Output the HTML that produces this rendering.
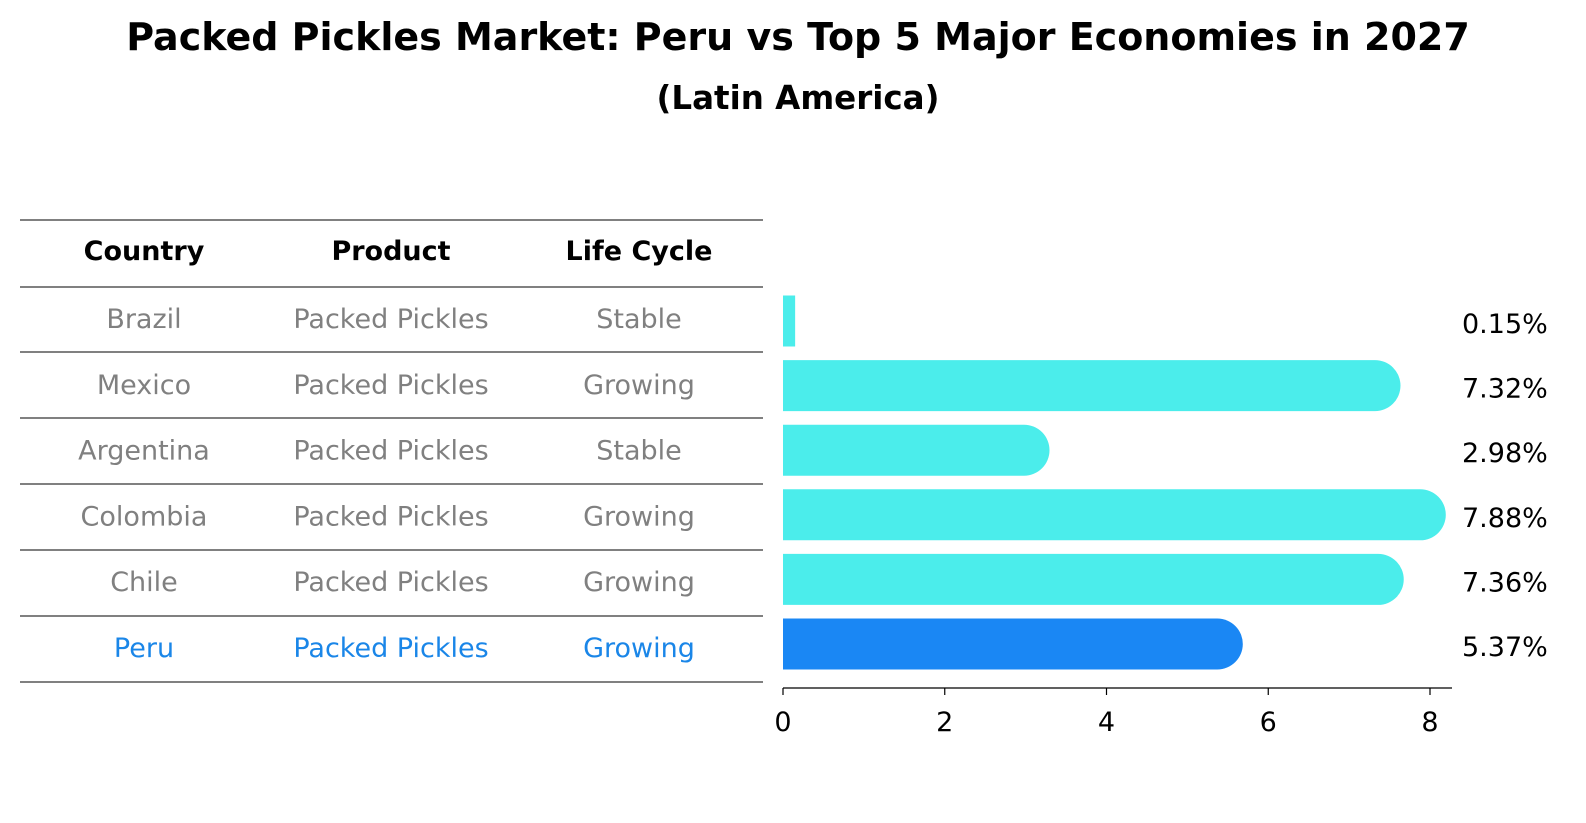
<!DOCTYPE html>
<html><head><meta charset="utf-8">
<style>
html,body{margin:0;padding:0;background:#fff;overflow:hidden;width:1586px;height:823px;}
svg{display:block;}
svg text{font-family:"DejaVu Sans","Liberation Sans",sans-serif;}
</style></head>
<body>
<svg width="1586" height="823" viewBox="0 0 1586 823">
<text x="798" y="50" text-anchor="middle" font-size="38" font-weight="bold">Packed Pickles Market: Peru vs Top 5 Major Economies in 2027</text>
<text x="798" y="109" text-anchor="middle" font-size="32.5" font-weight="bold">(Latin America)</text>
<g id="table"></g>
<g id="bars"></g>
</svg>
<script>
const countries=["Brazil","Mexico","Argentina","Colombia","Chile","Peru"];
const products=["Packed Pickles","Packed Pickles","Packed Pickles","Packed Pickles","Packed Pickles","Packed Pickles"];
const cycles=["Stable","Growing","Stable","Growing","Growing","Growing"];
const values=[0.15,7.32,2.98,7.88,7.36,5.37];
const ticks=[0,2,4,6,8];
const NS="http://www.w3.org/2000/svg";
function mk(tag,attrs,parent){const e=document.createElementNS(NS,tag);for(const k in attrs)e.setAttribute(k,attrs[k]);parent.appendChild(e);return e;}
const tbl=document.getElementById('table');
const lineYs=[220,287,352,418,484,550,616,682];
lineYs.forEach((y,i)=>{const l=mk('line',{x1:20,x2:763,y1:y,y2:y,stroke:'#000','stroke-width':1},tbl);

});
const colX=[144,391,639];
["Country","Product","Life Cycle"].forEach((h,i)=>{const t=mk('text',{x:colX[i],y:260,'text-anchor':'middle','font-size':27,'font-weight':'bold'},tbl);t.textContent=h;

});
const rowY=i=>318+i*65.8;
countries.forEach((c,i)=>{const col=c==="Peru"?"#1a86e8":"#808080";
[c,products[i],cycles[i]].forEach((v,j)=>{const t=mk('text',{x:colX[j],y:rowY(i)+10,'text-anchor':'middle','font-size':27,fill:col},tbl);t.textContent=v;

});});
const g=document.getElementById('bars');
const x=v=>783+v*80.875;
const yc=i=>321+i*64.6;
const bh=51;
values.forEach((v,i)=>{const col=countries[i]==="Peru"?"#1a87f4":"#4bedeb";
const w=x(v)-x(0);
const r=v>0.5?bh/2:0;
const p=mk('path',{d:`M${x(0)},${yc(i)-bh/2} h${w} a${r},${bh/2} 0 0 1 0,${bh} h${-w} z`,fill:col},g);
if(r===0)p.setAttribute('d',`M${x(0)},${yc(i)-bh/2} h${w} v${bh} h${-w} z`);


const t=mk('text',{x:1462,y:yc(i)+12,'font-size':27},g);t.textContent=v.toFixed(2)+'%';

});
const ax=mk('line',{x1:783,x2:1452,y1:688,y2:688,stroke:'#000','stroke-width':1.2},g);


ticks.forEach(tv=>{const l=mk('line',{x1:x(tv),x2:x(tv),y1:688,y2:695,stroke:'#000','stroke-width':1.2},g);


const t=mk('text',{x:x(tv),y:731,'text-anchor':'middle','font-size':27},g);t.textContent=tv;

});
</script>
</body></html>
